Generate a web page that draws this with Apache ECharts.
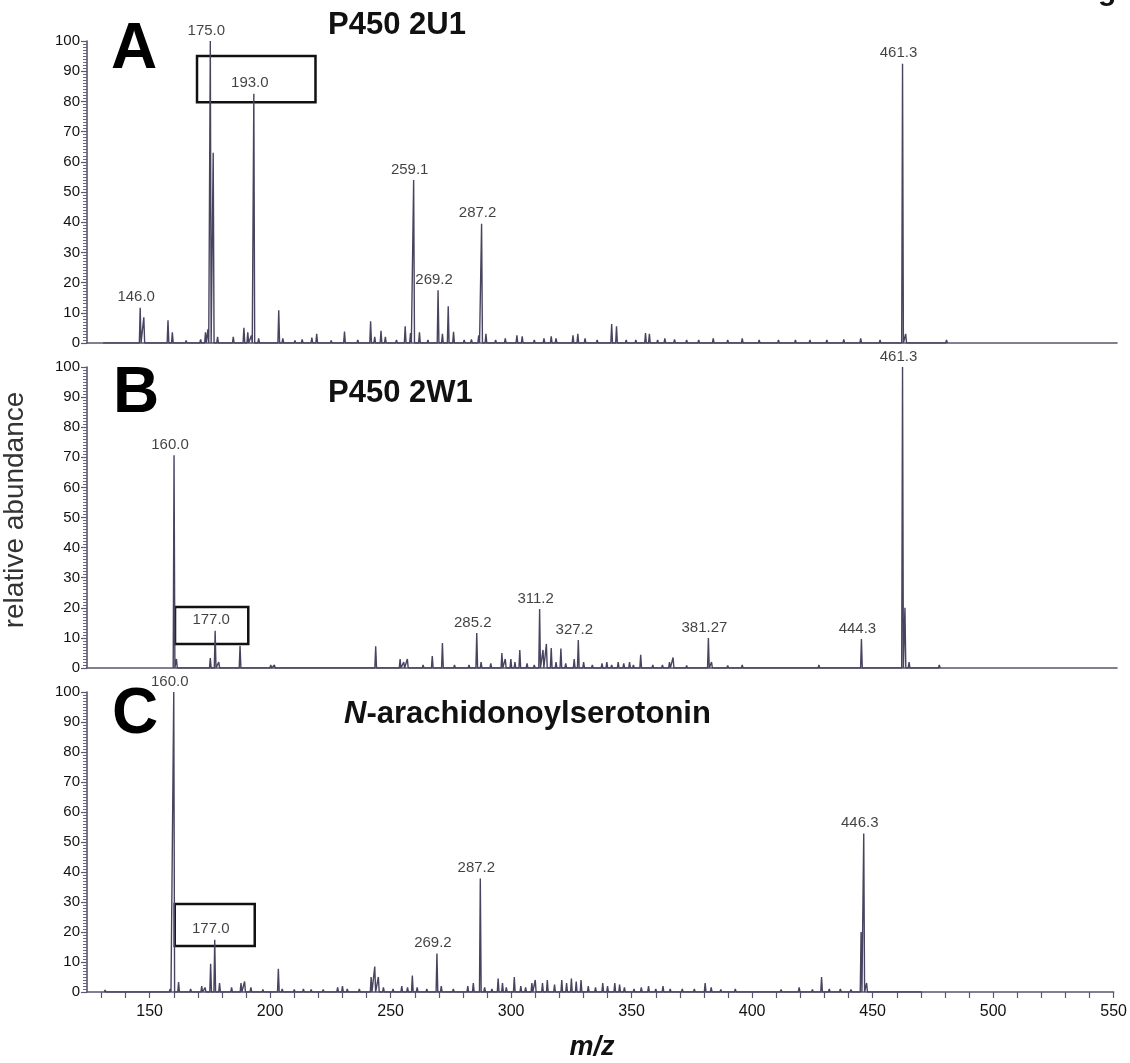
<!DOCTYPE html>
<html>
<head>
<meta charset="utf-8">
<script src="https://cdn.jsdelivr.net/npm/echarts@6/dist/echarts.min.js"></script>
<style>
html,body{margin:0;padding:0;background:#fff;}
#chart{width:1130px;height:1063px;}
</style>
</head>
<body>
<div id="chart"></div>
<script>
// ---------- DATA ----------
const panelNames = ['A', 'B', 'C'];
const panelTitles = ['P450 2U1', 'P450 2W1', 'N-arachidonoylserotonin'];
const yTicks = [0, 10, 20, 30, 40, 50, 60, 70, 80, 90, 100];
const xTickValues = [130,140,150,160,170,180,190,200,210,220,230,240,250,260,270,280,290,300,310,320,330,340,350,360,370,380,390,400,410,420,430,440,450,460,470,480,490,500,510,520,530,540,550];
const xLabelValues = [150, 200, 250, 300, 350, 400, 450, 500, 550];

// [m/z, relative abundance]
const peaksA = [[131,0.5],[138,0.6],[146.0,11.7],[147.5,8.5],[157.5,7.5],[159.3,3.5],[165,0.8],[171,1.2],[173,3.5],[174,4.5],[175.0,100],[176.2,63],[178,2],[184.5,2],[188.9,5],[190.5,3.5],[192,2.5],[193.0,82.5],[195,1.5],[203.3,10.8],[205,1.5],[210,0.8],[213,1.2],[217,1.8],[219,3],[225,0.8],[230.5,3.8],[236,1],[241.3,7.2],[243,2],[245.6,4],[247.4,2],[252,1],[255.6,5.5],[257.8,3.3],[259.1,54],[261.5,3.5],[265,1],[269.2,17.5],[271,3],[273.4,12.2],[275.6,3.7],[280,1],[283,1.2],[286,2.5],[287.2,39.5],[289,3],[293,1],[297,1.5],[301.8,2.5],[304,2.2],[309,1],[313,1.5],[316,2.2],[318,1.5],[325,2.5],[327,3],[330,1.5],[335,1],[341,6.3],[343,5.5],[347,1],[351,1],[355,3.3],[356.6,3],[360,1],[363,1.5],[367,1.2],[372,1],[377,1],[383,1.5],[389,1],[395,1.5],[402,1],[410,1],[417,1],[423,1],[430,1],[437,1.2],[444,1.5],[452,1],[461.3,92.5],[462.6,3],[470,0.5],[479.5,1]];
const peaksB = [[160.0,70.7],[161,3],[175,3.3],[177.0,12.4],[178.5,2],[187.3,7.4],[200,1],[201.5,1],[243.4,7.2],[253.5,3],[255,2],[256.5,3],[263,1],[266.8,4],[271,8.3],[276,1],[282,1],[285.2,11.6],[287,2],[291,1.5],[295.6,5],[297,3],[299.3,3],[301,2],[303,6],[306,1.5],[309,1],[311.2,19.6],[312.6,6],[314,8],[316,6.6],[318,2],[320,6.5],[322,1.5],[325.5,3],[327.2,9.3],[329.4,2],[333,1],[337,1.5],[339,2],[341,1],[343.7,2],[346,1.5],[348.4,2],[350,1],[353,4.4],[358,1],[362,1],[364.9,2],[366.4,3.5],[372,0.8],[381.0,10],[382.3,2],[389,0.8],[395,1],[410,0.5],[426.7,1],[437,0.5],[444.3,9.6],[450,0.5],[461.3,100],[462.3,20],[464,2],[476.5,1]];
const peaksC = [[131.5,0.7],[136,0.5],[141,0.6],[146.4,0.6],[150,0.5],[155,0.5],[158.5,1],[160.0,100],[162,3.3],[167,1],[171.6,2],[173,1.5],[175.3,9.4],[177.0,17.4],[179,3],[184,1.5],[187.9,3],[189.4,3.5],[192,1.5],[197,0.8],[203.4,7.7],[205,1],[210,0.8],[213.8,1],[217,0.8],[222,0.8],[228,1.5],[230,2],[232,1],[237,1],[241.9,5],[243.4,8.5],[244.9,5],[247,1.5],[251,1],[254.6,2],[257,1.5],[259,5.5],[261,1.5],[265,1],[269.2,12.8],[271,2],[276,1],[282,2],[284.3,3],[287.2,37.8],[289,1.5],[292,1],[294.6,4.5],[296.4,3],[298,1.5],[301.3,5],[304,2],[306,1.5],[308.6,3],[310,4],[313,3],[315,4],[318,2.5],[321,4],[323,3],[325,4.5],[327,3.5],[329,4],[332,2],[335,1.5],[338,3],[340,2],[343,3],[345,2.5],[347,1.5],[351,1],[354,1.5],[357,2],[360,1],[363,2],[366,1],[371,1],[376,1],[380.5,3],[383,1.5],[387,0.8],[393,1],[400,0.5],[405,0.5],[412,0.8],[419.5,1.5],[425,0.8],[428.8,5],[432,1],[436.6,1],[441,0.8],[445.2,20],[446.3,52.8],[447.5,3],[452,0.5],[460,0.5],[470,0.4]];

// labelled peaks: [m/z, abundance, label text]
const labelsA = [[146.0,11.7,'146.0'],[175.0,100,'175.0'],[193.0,82.5,'193.0'],[259.1,54,'259.1'],[269.2,17.5,'269.2'],[287.2,39.5,'287.2'],[461.3,92.5,'461.3']];
const labelsB = [[160.0,70.7,'160.0'],[177.0,12.4,'177.0'],[285.2,11.6,'285.2'],[311.2,19.6,'311.2'],[327.2,9.3,'327.2'],[381.0,10,'381.27'],[444.3,9.6,'444.3'],[461.3,100,'461.3']];
const labelsC = [[160.0,100,'160.0'],[177.0,17.4,'177.0'],[269.2,12.8,'269.2'],[287.2,37.8,'287.2'],[446.3,52.8,'446.3']];

// highlight boxes (m/z range, abundance range)
const boxA = [169.5, 218.5, 79.7, 95];
const boxB = [160.4, 190.7, 8.0, 20.3];
const boxC = [160.4, 193.6, 15.3, 29.3];

// ---------- STYLE / LAYOUT ----------
const FONT = 'Arial, "Liberation Sans", Helvetica, sans-serif';
const LINE = '#48435f';
const AXIS = '#5a5670';
const grids = [
  {left: 87, right: 13, top: 41, height: 302},
  {left: 87, right: 13, top: 367, height: 301},
  {left: 87, right: 13, top: 692, height: 300}
];
const X_MIN = 124, X_MAX = 550;
const HALF = 0.35;

function stick(peaks) {
  const pts = [];
  peaks.forEach(p => {
    pts.push([p[0] - HALF, 0]);
    pts.push([p[0], p[1]]);
    pts.push([p[0] + HALF, 0]);
  });
  return pts;
}

const allPeaks = [peaksA, peaksB, peaksC];
const allLabels = [labelsA, labelsB, labelsC];
const allBoxes = [boxA, boxB, boxC];

const xAxes = grids.map((g, i) => ({
  type: 'value', gridIndex: i, min: X_MIN, max: X_MAX,
  axisLine: {show: true, lineStyle: {color: AXIS, width: 1.6}},
  axisTick: i === 2 ? {show: true, length: 6, inside: false, customValues: xTickValues, lineStyle: {color: AXIS, width: 1.2}} : {show: false},
  axisLabel: i === 2 ? {show: true, customValues: xLabelValues, fontFamily: FONT, fontSize: 16, color: '#111', margin: 12} : {show: false},
  splitLine: {show: false}
}));

const yAxes = grids.map((g, i) => ({
  type: 'value', gridIndex: i, min: 0, max: 100, interval: 10,
  axisLine: {show: true, lineStyle: {color: AXIS, width: 1.6}},
  axisTick: {show: true, length: 6, lineStyle: {color: AXIS, width: 1.2}},
  minorTick: {show: true, splitNumber: 10, length: 4, lineStyle: {color: AXIS, width: 0.9}},
  axisLabel: {fontFamily: FONT, fontSize: 15, color: '#111', margin: 7},
  splitLine: {show: false}
}));

const series = [];
allPeaks.forEach((pk, i) => {
  const b = allBoxes[i];
  series.push({
    type: 'line', xAxisIndex: i, yAxisIndex: i,
    data: stick(pk), showSymbol: false, symbol: 'none',
    lineStyle: {color: LINE, width: 1.4}, z: 3, silent: true,
    markArea: {
      silent: true,
      itemStyle: {color: 'rgba(0,0,0,0)', borderColor: '#111', borderWidth: 2.5},
      data: [[{coord: [b[0], b[3]]}, {coord: [b[1], b[2]]}]]
    }
  });
  series.push({
    type: 'scatter', xAxisIndex: i, yAxisIndex: i, symbolSize: 0, silent: true, z: 5,
    data: allLabels[i].map(l => ({value: [l[0], l[1]], name: l[2]})),
    label: {show: true, position: 'top', distance: 3, offset: [-4, 0], formatter: '{b}',
      fontFamily: FONT, fontSize: 15, color: '#111'}
  });
});

const graphics = [];
const letterPos = [[134, 50], [136, 394], [135, 715]];
panelNames.forEach((n, i) => {
  graphics.push({type: 'text', x: letterPos[i][0], y: letterPos[i][1], z: 10,
    style: {text: n, font: 'bold 64px ' + FONT, fill: '#000', align: 'center', verticalAlign: 'middle'}});
});
graphics.push({type: 'text', x: 328, y: 25, z: 10,
  style: {text: panelTitles[0], font: 'bold 31px ' + FONT, fill: '#111', align: 'left', verticalAlign: 'middle'}});
graphics.push({type: 'text', x: 328, y: 393, z: 10,
  style: {text: panelTitles[1], font: 'bold 31px ' + FONT, fill: '#111', align: 'left', verticalAlign: 'middle'}});
graphics.push({type: 'text', x: 344, y: 714, z: 10,
  style: {text: '{i|N}{n|' + panelTitles[2].slice(1) + '}', align: 'left', verticalAlign: 'middle',
    rich: {i: {font: 'italic bold 31px ' + FONT, fill: '#111'}, n: {font: 'bold 31px ' + FONT, fill: '#111'}}}});
graphics.push({type: 'text', x: 15, y: 510, rotation: Math.PI / 2, z: 10,
  style: {text: 'relative abundance', font: '28px ' + FONT, fill: '#333', align: 'center', verticalAlign: 'middle'}});
graphics.push({type: 'text', x: 592, y: 1048, z: 10,
  style: {text: 'm/z', font: 'italic bold 27px ' + FONT, fill: '#111', align: 'center', verticalAlign: 'middle'}});
graphics.push({type: 'text', x: 1098, y: -8, z: 10,
  style: {text: 'g', font: 'bold 30px ' + FONT, fill: '#111', align: 'left', verticalAlign: 'middle'}});

const chart = echarts.init(document.getElementById('chart'), null, {renderer: 'canvas'});
chart.setOption({
  backgroundColor: '#fff',
  animation: false,
  grid: grids,
  xAxis: xAxes,
  yAxis: yAxes,
  series: series,
  graphic: graphics
});
</script>
</body>
</html>
